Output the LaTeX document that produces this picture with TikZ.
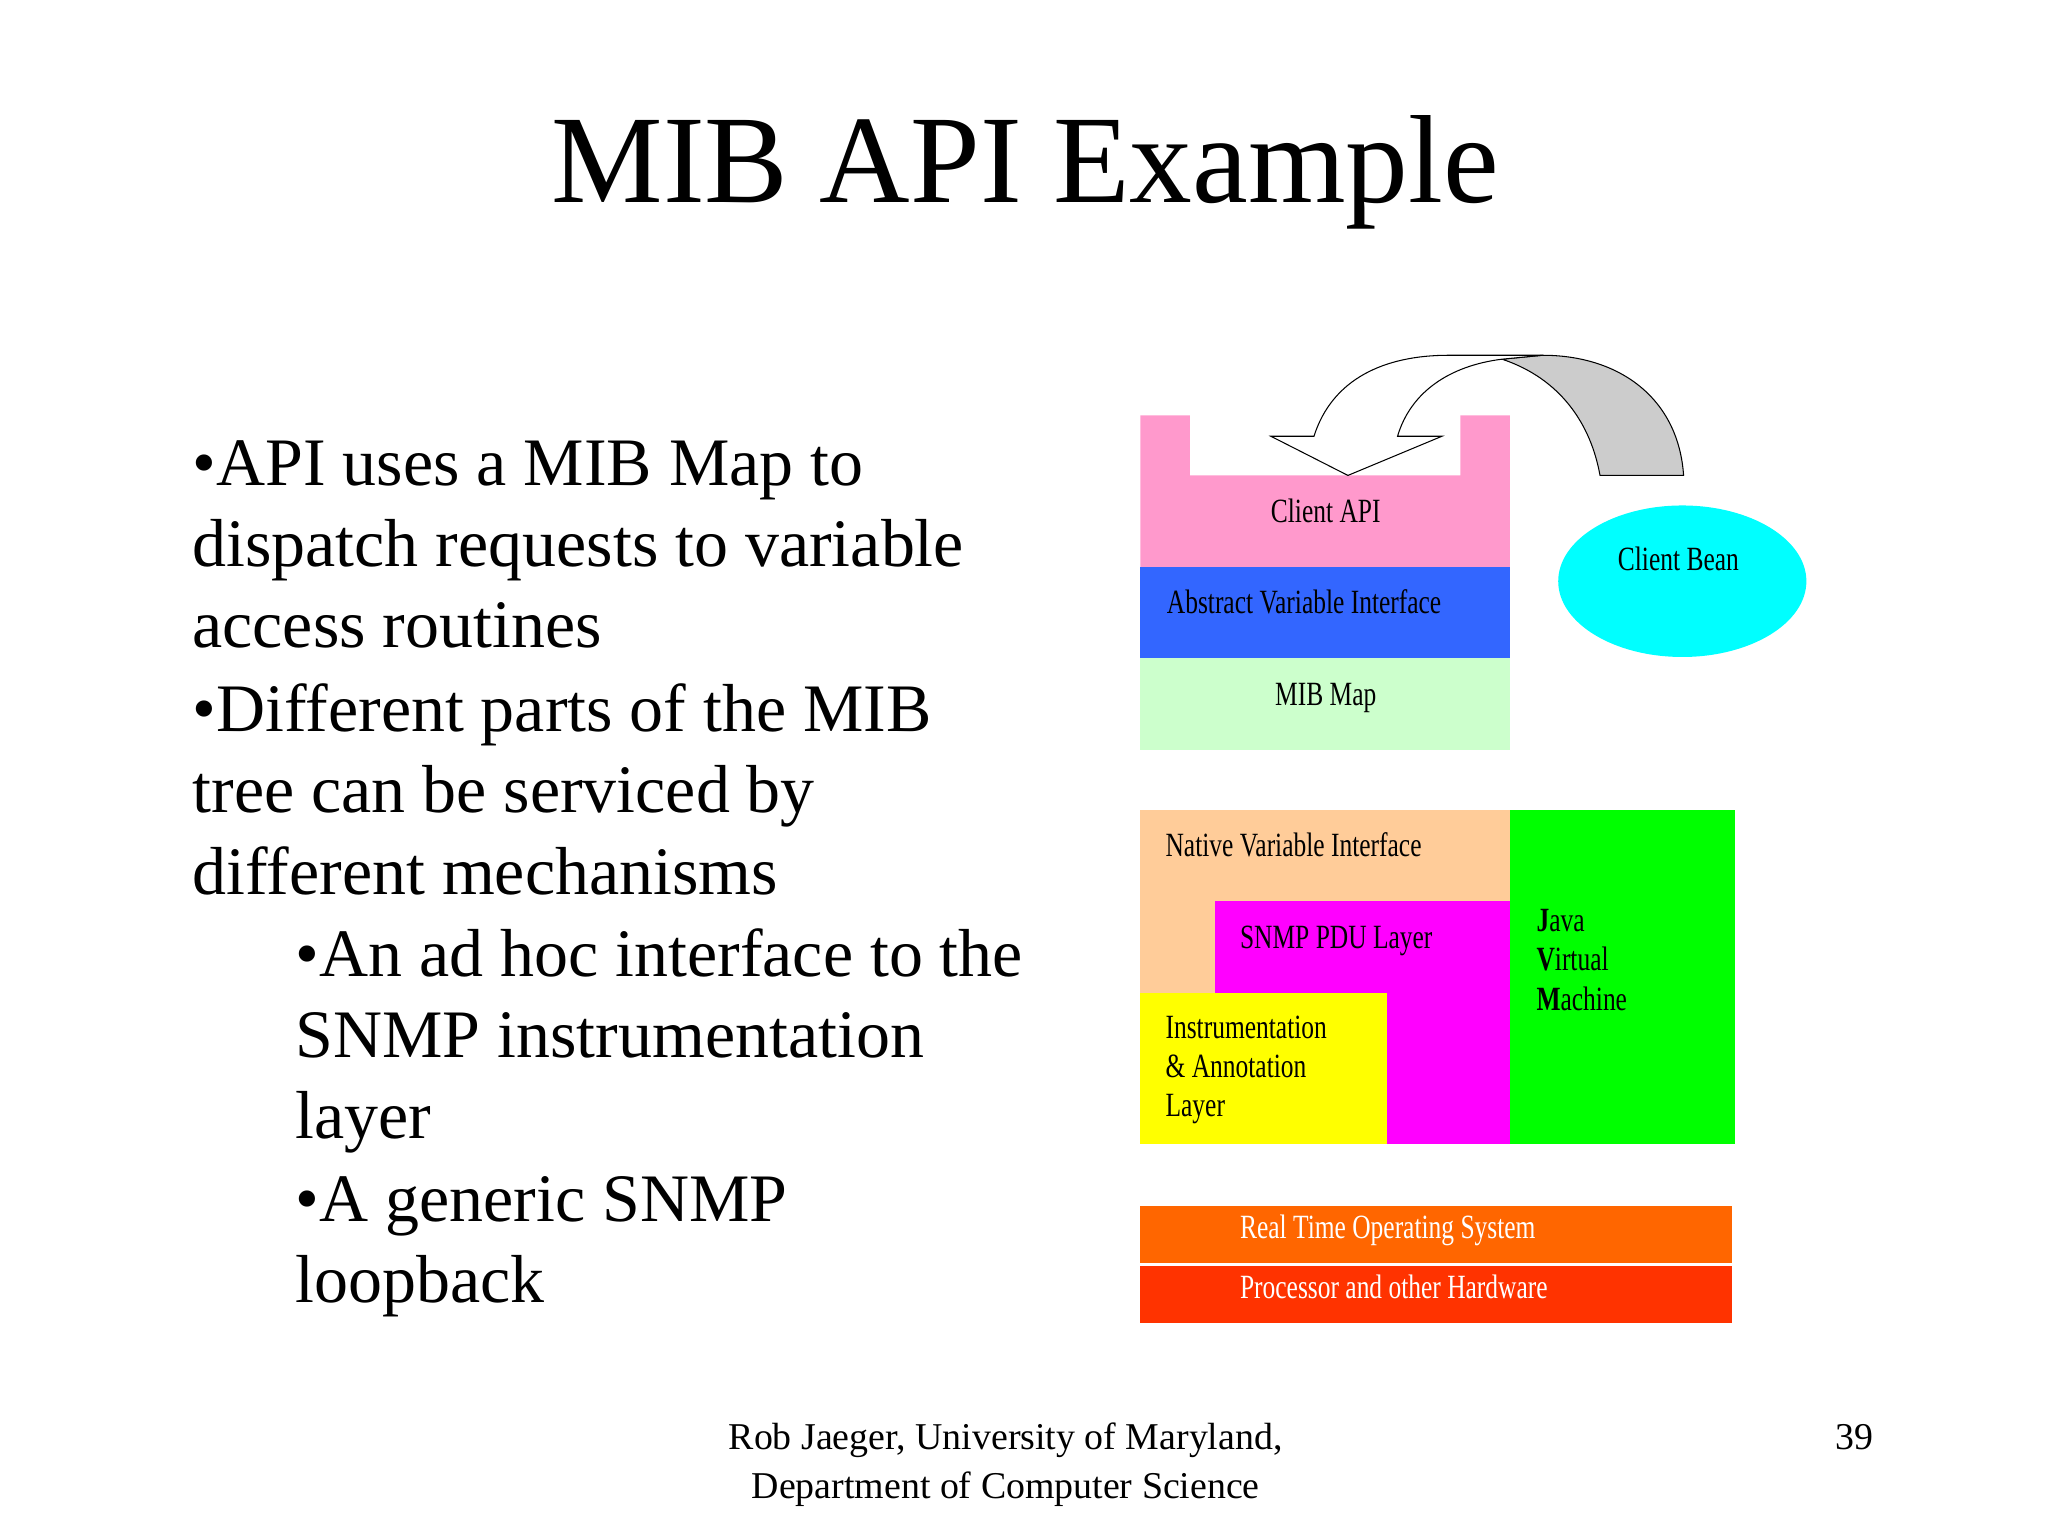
\documentclass[tikz,border=0pt]{standalone}
\usepackage{fontspec}
\setmainfont{Liberation Serif}
\newfontfamily\narrow{Liberation Serif}[FakeStretch=0.75]
\begin{document}
\begin{tikzpicture}[x=0.5pt,y=-0.5pt,
  txt/.style={inner sep=0,anchor=base west},
  lab/.style={inner sep=0,anchor=base west,font=\narrow\fontsize{13}{15}\selectfont},
  bul/.style={inner sep=0,anchor=base west,font=\fontsize{26}{31}\selectfont}]
\useasboundingbox (0,0) rectangle (1568,1176);
% title
\node[inner sep=0,anchor=base,font=\fontsize{48}{56}\selectfont] (title) at (785,155) {MIB API Example};
% bullets
\node[bul] (b1) at (147,372) {•API uses a MIB Map to};
\node[bul] (b2) at (147,434) {dispatch requests to variable};
\node[bul] (b3) at (147,496) {access routines};
\node[bul] (b4) at (147,560) {•Different parts of the MIB};
\node[bul] (b5) at (147,622) {tree can be serviced by};
\node[bul] (b6) at (147,685) {different mechanisms};
\node[bul] (s1) at (226,748) {•An ad hoc interface to the};
\node[bul] (s2) at (226,810) {SNMP instrumentation};
\node[bul] (s3) at (226,872) {layer};
\node[bul] (s4) at (226,935) {•A generic SNMP};
\node[bul] (s5) at (226,997) {loopback};
% footer
\node[inner sep=0,anchor=base,font=\fontsize{14.5}{17}\selectfont] (f1) at (770,1110) {Rob Jaeger, University of Maryland,};
\node[inner sep=0,anchor=base,font=\fontsize{14.5}{17}\selectfont] (f2) at (770,1147) {Department of Computer Science};
\node[inner sep=0,anchor=base,font=\fontsize{14.5}{17}\selectfont] (pg) at (1420,1110) {39};
% top stack
\fill[fill={rgb,255:red,255;green,153;blue,204}] (873,318) -- (911,318) -- (911,364) -- (1118,364) -- (1118,318) -- (1156,318) -- (1156,434) -- (873,434) -- cycle;
\fill[fill={rgb,255:red,51;green,102;blue,255}] (873,434) rectangle (1156,504);
\fill[fill={rgb,255:red,204;green,255;blue,204}] (873,504) rectangle (1156,574);
\node[inner sep=0,anchor=base,font=\narrow\fontsize{13}{15}\selectfont] (capi) at (1015,400) {Client API};
\node[lab] (avi) at (893,470) {Abstract Variable Interface};
\node[inner sep=0,anchor=base,font=\narrow\fontsize{13}{15}\selectfont] (mmap) at (1015,540) {MIB Map};
% ellipse
\fill[fill={rgb,255:red,0;green,255;blue,255}] (1288,445) ellipse [x radius=95,y radius=58];
\node[inner sep=0,anchor=base,font=\narrow\fontsize{13}{15}\selectfont] (cb) at (1285,437) {Client Bean};
% curved arrow
\draw[fill={rgb,255:red,204;green,204;blue,204}] (1150,275) .. controls (1195,290) and (1218,325) .. (1225,364) -- (1289,364) .. controls (1285,305) and (1240,272) .. (1181,272) -- cycle;
\draw[fill=white] (1006,334) -- (973,334) -- (1032,364) -- (1104,334) -- (1070,334) .. controls (1080,300) and (1110,280) .. (1150,275) -- (1181,272) -- (1109,272) .. controls (1060,272) and (1020,290) .. (1006,334) -- cycle;
% middle block
\fill[fill={rgb,255:red,255;green,204;blue,153}] (873,620) rectangle (1156,876);
\fill[fill={rgb,255:red,255;green,0;blue,255}] (930,690) rectangle (1156,876);
\fill[fill={rgb,255:red,255;green,255;blue,0}] (873,760) rectangle (1062,876);
\fill[fill={rgb,255:red,0;green,255;blue,0}] (1156,620) rectangle (1328,876);
\node[lab] (nvi) at (892,656) {Native Variable Interface};
\node[lab] (pdu) at (949,726) {SNMP PDU Layer};
\node[lab] (j1) at (1176,713) {\textbf{J}ava};
\node[lab] (j2) at (1176,743) {\textbf{V}irtual};
\node[lab] (j3) at (1176,774) {\textbf{M}achine};
\node[lab] (i1) at (892,795) {Instrumentation};
\node[lab] (i2) at (892,825) {\& Annotation};
\node[lab] (i3) at (892,855) {Layer};
% bottom
\fill[fill={rgb,255:red,255;green,102;blue,0}] (873,923) rectangle (1326,967);
\fill[fill={rgb,255:red,255;green,51;blue,0}] (873,969) rectangle (1326,1013);
\node[lab,text=white] (rtos) at (949,948) {Real Time Operating System};
\node[lab,text=white] (hw) at (949,994) {Processor and other Hardware};
\end{tikzpicture}
\end{document}
